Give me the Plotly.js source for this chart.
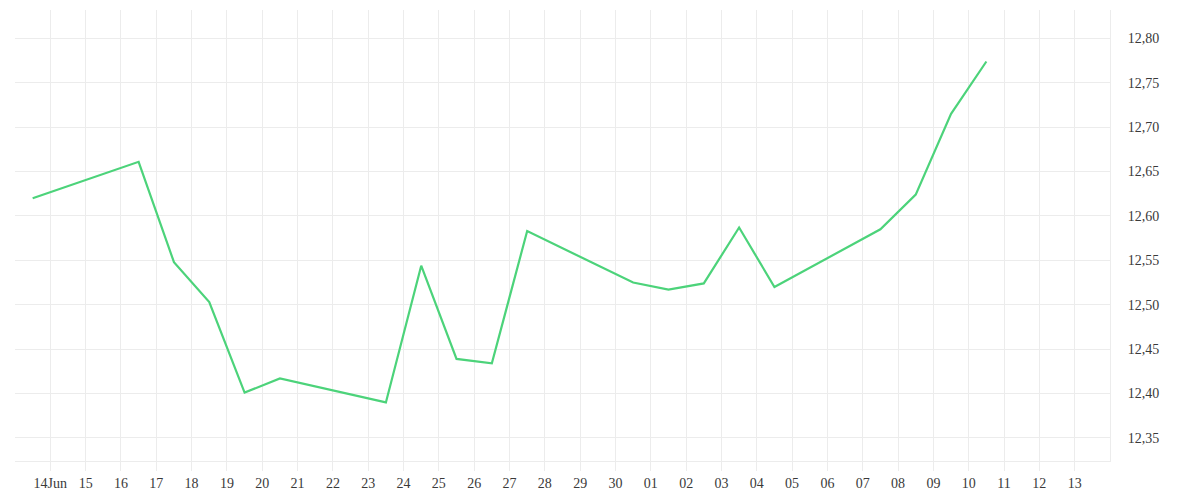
<!DOCTYPE html>
<html>
<head>
<meta charset="utf-8">
<script src="https://cdn.plot.ly/plotly-3.0.1.min.js"></script>
<style>
  html, body { margin: 0; padding: 0; background: #fff; }
  #chart { width: 1200px; height: 500px; }
</style>
</head>
<body>
<div id="chart"></div>
<script>
  // ── Datos ────────────────────────────────────────────────────────────────
  const fechas = [
    '2024-06-13 12:00', '2024-06-16 12:00', '2024-06-17 12:00', '2024-06-18 12:00',
    '2024-06-19 12:00', '2024-06-20 12:00', '2024-06-23 12:00', '2024-06-24 12:00',
    '2024-06-25 12:00', '2024-06-26 12:00', '2024-06-27 12:00', '2024-06-30 12:00',
    '2024-07-01 12:00', '2024-07-02 12:00', '2024-07-03 12:00', '2024-07-04 12:00',
    '2024-07-07 12:00', '2024-07-08 12:00', '2024-07-09 12:00', '2024-07-10 12:00'
  ];
  const valores = [
    12.620, 12.661, 12.548, 12.503, 12.401, 12.417, 12.390, 12.544,
    12.439, 12.434, 12.583, 12.525, 12.517, 12.524, 12.587, 12.520,
    12.585, 12.624, 12.715, 12.774
  ];
  const tickDias = [
    '2024-06-14', '2024-06-15', '2024-06-16', '2024-06-17', '2024-06-18', '2024-06-19',
    '2024-06-20', '2024-06-21', '2024-06-22', '2024-06-23', '2024-06-24', '2024-06-25',
    '2024-06-26', '2024-06-27', '2024-06-28', '2024-06-29', '2024-06-30', '2024-07-01',
    '2024-07-02', '2024-07-03', '2024-07-04', '2024-07-05', '2024-07-06', '2024-07-07',
    '2024-07-08', '2024-07-09', '2024-07-10', '2024-07-11', '2024-07-12', '2024-07-13'
  ];
  const tickTextos = [
    '14Jun', '15', '16', '17', '18', '19', '20', '21', '22', '23', '24', '25', '26',
    '27', '28', '29', '30', '01', '02', '03', '04', '05', '06', '07', '08', '09',
    '10', '11', '12', '13'
  ];
  const yTicks = [12.35, 12.40, 12.45, 12.50, 12.55, 12.60, 12.65, 12.70, 12.75, 12.80];

  const GRID = '#ececec';
  const FONT = '"Liberation Serif", "DejaVu Serif", serif';

  Plotly.newPlot('chart', [{
    type: 'scatter', mode: 'lines',
    x: fechas, y: valores,
    line: { color: '#4cd37a', width: 2.2 },
    hoverinfo: 'skip'
  }], {
    width: 1200, height: 500,
    paper_bgcolor: '#fff', plot_bgcolor: '#fff',
    margin: { l: 15, r: 90, t: 10, b: 39 },
    separators: ',.',
    showlegend: false,
    font: { family: FONT, size: 14, color: '#3a3a3a' },
    xaxis: {
      type: 'date',
      range: ['2024-06-13', '2024-07-14'],
      tickmode: 'array', tickvals: tickDias, ticktext: tickTextos,
      showgrid: true, gridcolor: GRID, gridwidth: 1,
      ticks: 'outside', ticklen: 9, tickcolor: GRID,
      showline: true, linecolor: GRID, mirror: false,
      zeroline: false,
      tickfont: { family: FONT, size: 14, color: '#3a3a3a' }
    },
    yaxis: {
      side: 'right',
      range: [12.324, 12.832],
      tickmode: 'array', tickvals: yTicks,
      tickformat: '.2f',
      showgrid: true, gridcolor: GRID, gridwidth: 1,
      ticks: '', ticklabelstandoff: 14,
      showline: true, linecolor: GRID,
      zeroline: false,
      tickfont: { family: FONT, size: 14, color: '#3a3a3a' }
    }
  }, { displayModeBar: false, staticPlot: true });
</script>
</body>
</html>
